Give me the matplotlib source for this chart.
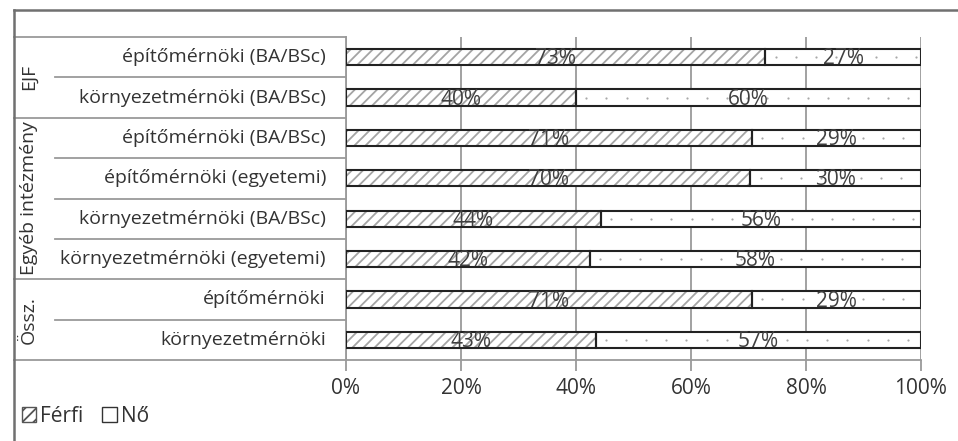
import matplotlib
matplotlib.use("Agg")
import matplotlib.pyplot as plt
from matplotlib.patches import Patch
from matplotlib.transforms import blended_transform_factory
import numpy as np

plt.rcParams['font.family'] = ['Open Sans', 'DejaVu Sans']

categories = ["építőmérnöki (BA/BSc)", "környezetmérnöki (BA/BSc)",
              "építőmérnöki (BA/BSc)", "építőmérnöki (egyetemi)",
              "környezetmérnöki (BA/BSc)", "környezetmérnöki (egyetemi)",
              "építőmérnöki", "környezetmérnöki"]
groups = ["EJF", "Egyéb intézmény", "Össz."]
group_sizes = [2, 4, 2]
ferfi = [72.9, 40.0, 70.6, 70.3, 44.3, 42.4, 70.6, 43.4]
no = [100 - v for v in ferfi]
xticks = [0, 20, 40, 60, 80, 100]

W, H = 958, 441
fig = plt.figure(figsize=(W / 100, H / 100), dpi=100)
ax = fig.add_axes([346 / W, 1 - 360 / H, 575 / W, 323 / H])

y = np.arange(len(categories))
plt.rcParams['hatch.linewidth'] = 1.3

# hatched Férfi, white Nő, then black outlines on top
ax.barh(y, ferfi, height=0.4, color="white", edgecolor="#a4a4a4", hatch="///", linewidth=0, zorder=2)
ax.barh(y, no, left=ferfi, height=0.4, color="white", linewidth=0, zorder=2)
# faint dot pattern in the Nő segments
for i in range(len(categories)):
    xs = np.arange(ferfi[i] + 1.8, 100, 3.5)
    ax.scatter(xs, np.full(len(xs), i), s=2.5, color="#a8a8a8", linewidths=0, zorder=2.5)
ax.barh(y, ferfi, height=0.4, facecolor="none", edgecolor="#222222", linewidth=1.5, zorder=3)
ax.barh(y, no, left=ferfi, height=0.4, facecolor="none", edgecolor="#222222", linewidth=1.5, zorder=3)

for i in range(len(categories)):
    ax.text(ferfi[i] / 2, i + 0.04, f"{ferfi[i]:.0f}%", ha="center", va="center",
            fontsize=15, color="#404040", zorder=4)
    ax.text(ferfi[i] + no[i] / 2, i + 0.04, f"{no[i]:.0f}%", ha="center", va="center",
            fontsize=15, color="#404040", zorder=4)

ax.set_xlim(0, 100)
ax.set_ylim(len(categories) - 0.5, -0.5)
ax.set_xticks(xticks)
ax.set_xticklabels([f"{t}%" for t in xticks])
ax.set_yticks([])
ax.grid(axis="x", color="#9a9a9a", linewidth=1.3, zorder=0)
ax.set_axisbelow(True)
for s in ["top", "right"]:
    ax.spines[s].set_visible(False)
for s in ["left", "bottom"]:
    ax.spines[s].set_color("#9a9a9a")
    ax.spines[s].set_linewidth(1.3)
ax.tick_params(axis="x", length=8, width=1.3, color="#9a9a9a", labelsize=15,
               labelcolor="#333333", pad=5)

# category table to the left
tr = blended_transform_factory(fig.transFigure, ax.transData)
x_out, x_in, x_ax = 14 / W, 55 / W, 346 / W
for i, c in enumerate(categories):
    ax.text(326 / W, i, c, transform=tr, ha="right", va="center",
            fontsize=14, color="#333333")
bounds = np.cumsum([0] + group_sizes)
for i in range(len(categories) + 1):
    yy = i - 0.5
    x0 = x_out if i in bounds else x_in
    ax.plot([x0, x_ax], [yy, yy], transform=tr, color="#9a9a9a", lw=1.3, clip_on=False)
for g, a, b in zip(groups, bounds[:-1], bounds[1:]):
    ax.text(29 / W, (a + b - 1) / 2, g, transform=tr, rotation=90, ha="center",
            va="center", fontsize=14, color="#333333")

# outer frame
fig.add_artist(plt.Line2D([14 / W, 14 / W], [0, 1 - 10 / H], color="#707070", lw=1.8))
fig.add_artist(plt.Line2D([14 / W, 1], [1 - 10 / H, 1 - 10 / H], color="#707070", lw=1.8))

handles = [Patch(facecolor="white", edgecolor="#555555", hatch="///", linewidth=1.0),
           Patch(facecolor="white", edgecolor="#333333", linewidth=1.0)]
fig.legend(handles, ["Férfi", "Nő"], loc="center left", bbox_to_anchor=(7 / W, 1 - 416 / H),
           ncol=2, frameon=False, fontsize=15, handlelength=0.7, handleheight=0.7,
           handletextpad=0.2, columnspacing=0.9, labelcolor="#333333", borderpad=0.2)

fig.savefig("out.png", dpi=100)
